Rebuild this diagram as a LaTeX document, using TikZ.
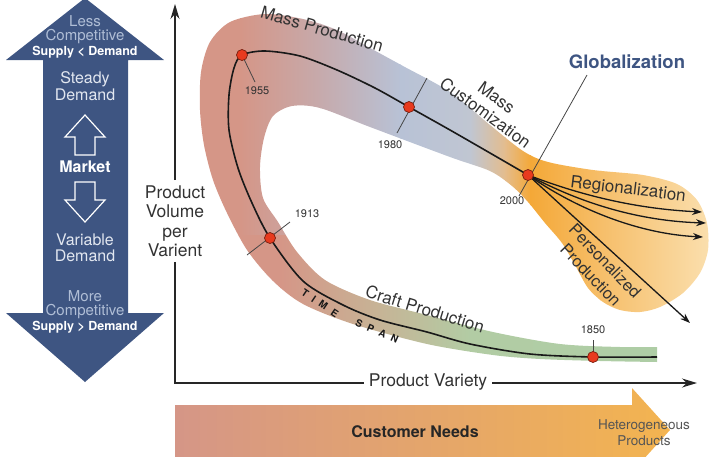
\documentclass[tikz,border=0pt]{standalone}
\usepackage{fontspec}
\setmainfont{TeX Gyre Heros}
\usetikzlibrary{arrows.meta}
\definecolor{navy}{RGB}{62,85,130}
\definecolor{lightnavy}{RGB}{176,190,214}
\definecolor{palenavy}{RGB}{226,231,240}
\definecolor{txtgrey}{RGB}{50,50,50}
\definecolor{midgrey}{RGB}{85,85,85}
\definecolor{salm}{RGB}{213,150,135}
\definecolor{mauvec}{RGB}{198,170,172}
\definecolor{bgrey}{RGB}{184,194,214}
\definecolor{bgreyb}{RGB}{192,198,210}
\definecolor{bandtan}{RGB}{228,188,140}
\definecolor{orng}{RGB}{244,168,55}
\definecolor{orngb}{RGB}{246,190,105}
\definecolor{peach}{RGB}{251,226,180}
\definecolor{olivec}{RGB}{198,180,150}
\definecolor{sage}{RGB}{178,204,164}
\definecolor{sageb}{RGB}{172,206,166}
\definecolor{dotred}{RGB}{232,58,30}
\definecolor{dotedge}{RGB}{120,30,15}
\definecolor{tickgrey}{RGB}{70,70,70}
\definecolor{cnleft}{RGB}{213,150,135}
\definecolor{cnright}{RGB}{243,180,80}
\tikzset{
  lbl/.style={text=txtgrey, font=\fontsize{17}{19}\selectfont, inner sep=0pt},
  yr/.style={text=txtgrey, font=\fontsize{11}{12}\selectfont, inner sep=0pt},
  yeardot/.style={circle, draw=dotedge, fill=dotred, line width=0.7pt, minimum size=11pt, inner sep=0pt},
  yeartick/.style={draw=tickgrey, line width=0.8pt},
  timeline/.style={draw=black!90, line width=1.6pt},
  axisline/.style={draw=black!85, line width=1.3pt},
  branch/.style={draw=black!90, line width=1.3pt, -{Stealth[length=10pt,width=7pt]}},
  panel/.style={font=\fontsize{15}{16}\selectfont, inner sep=0pt},
  panelb/.style={font=\fontsize{12.5}{14}\selectfont\bfseries, text=white, inner sep=0pt},
  outlinearrow/.style={draw=white, line width=1.2pt, line join=miter},
}
\begin{document}
\begin{tikzpicture}[x=1pt,y=-1pt]
\useasboundingbox (0,0) rectangle (716,456);

% ---------------- left market arrow ----------------
\fill[navy] (6,60) -- (85,-2) -- (164,60) -- (128,60) -- (128,313) -- (164,313)
  -- (85,382) -- (6,313) -- (43,313) -- (43,60) -- cycle;
\draw[outlinearrow] (75,155) -- (75,137) -- (65,137) -- (85,115) -- (105,137) -- (95,137) -- (95,155) -- cycle;
\draw[outlinearrow] (75,182) -- (95,182) -- (95,200) -- (105,200) -- (85,222) -- (65,200) -- (75,200) -- cycle;
\node[panel, text=lightnavy] (less) at (85,21) {Less};
\node[panel, text=lightnavy] (comp1) at (85,37) {Competitive};
\node[panelb] (sld) at (85,52) {Supply < Demand};
\node[panel, text=palenavy, font=\fontsize{16}{16}\selectfont] (steady) at (85,79) {Steady};
\node[panel, text=palenavy, font=\fontsize{16}{16}\selectfont] (dem1) at (85,95) {Demand};
\node[panelb, font=\fontsize{16}{16}\selectfont\bfseries] (market) at (85,167) {Market};
\node[panel, text=palenavy, font=\fontsize{16}{16}\selectfont] (variable) at (85,240) {Variable};
\node[panel, text=palenavy, font=\fontsize{16}{16}\selectfont] (dem2) at (85,256) {Demand};
\node[panel, text=lightnavy] (more) at (85,296) {More};
\node[panel, text=lightnavy] (comp2) at (85,312) {Competitive};
\node[panelb] (sgd) at (85,327) {Supply > Demand};

% ---------------- customer needs arrow ----------------
\shade[left color=cnleft, right color=cnright] (175,405) -- (632,405) -- (632,388) -- (670,430)
  -- (632,472) -- (632,460) -- (175,460) -- cycle;
\node[font=\fontsize{16}{16}\selectfont\bfseries, text=black!85, inner sep=0pt] (needs) at (415,432) {Customer Needs};
\node[font=\fontsize{13.5}{16}\selectfont, text=midgrey, align=center, inner sep=0pt] (hetero) at (644,433) {Heterogeneous\\Products};

% ---------------- band ----------------
\begin{scope}
\clip plot[smooth, tension=0.5] coordinates {
 (657,362) (600,361) (540,359) (493,355) (427,344) (353,324) (303,304) (273,281)
 (247,250) (227,213) (213,180) (204,145) (200,110) (201,72) (210,42) (230,22)
 (265,14) (303,19) (337,30) (370,48) (403,66) (450,92) (490,125) (523,151)
 (548,162) (593,170) (643,175) (677,184) (697,200) (707,223) (708,250) (700,273)
 (683,293) (660,307) (640,312) (620,310) (603,302) (588,288) (575,265) (562,243)
 (545,223) (528,202) (512,186) (490,171) (450,157) (370,127) (320,108) (292,106)
 (273,116) (264,138) (260,167) (263,198) (278,222) (297,252) (325,280) (370,300)
 (427,315) (493,332) (560,344) (620,347) (657,347)} -- cycle;
 \begin{scope}
 \clip (150,-10) -- (720,-10) -- (720,330) -- (450,310) -- (290,235) -- (150,235) -- cycle;
 \fill[salm] (150,-10) rectangle (241,400);
 \shade[left color=salm, right color=mauvec] (240,-10) rectangle (321,400);
 \shade[left color=mauvec, right color=bgrey] (320,-10) rectangle (401,400);
 \shade[left color=bgrey, right color=bgreyb] (400,-10) rectangle (471,400);
 \shade[left color=bgreyb, right color=bandtan] (470,-10) rectangle (506,400);
 \shade[left color=bandtan, right color=orng] (505,-10) rectangle (531,400);
 \shade[left color=orng, right color=orngb] (530,-10) rectangle (601,400);
 \shade[left color=orngb, right color=peach] (600,-10) rectangle (720,400);
 \end{scope}
 \begin{scope}
 \clip (150,235) -- (290,235) -- (450,310) -- (720,330) -- (720,400) -- (150,400) -- cycle;
 \fill[salm] (150,200) rectangle (281,400);
 \shade[left color=salm, right color=olivec] (280,200) rectangle (381,400);
 \shade[left color=olivec, right color=sage] (380,200) rectangle (471,400);
 \shade[left color=sage, right color=sageb] (470,200) rectangle (720,400);
 \end{scope}
\end{scope}

% ---------------- axes ----------------
\node[lbl, align=center, font=\fontsize{17.5}{19.5}\selectfont, inner sep=5pt] (ylab) at (175,221) {Product\\Volume\\per\\Varient};
\node[lbl, font=\fontsize{17.5}{19}\selectfont, inner sep=5pt] (xlab) at (428,382) {Product Variety};
\coordinate (ytop) at (175,4);
\coordinate (origin) at (175,383);
\coordinate (xend) at (697,383);
\draw[axisline, -{Stealth[length=15pt,width=9pt]}] (ylab.north) -- (ytop);
\draw[axisline] (ylab.south) -- (origin) -- (xlab.west |- origin);
\draw[axisline, -{Stealth[length=15pt,width=9pt]}] (xlab.east |- origin) -- (xend);

% ---------------- timeline coordinates ----------------
\coordinate (c1850) at (593,357);
\coordinate (c1913) at (270,238);
\coordinate (c1955) at (242,55);
\coordinate (c1980) at (409,107);
\coordinate (c2000) at (528,175);
\coordinate (r1) at (702,212);
\coordinate (r2) at (706,223);
\coordinate (r3) at (703,237);
\coordinate (pp) at (690,323);

% year ticks
\draw[yeartick] (c1955) -- (255,82);
\draw[yeartick] (427,78) -- (397,133);
\draw[yeartick] (247,255) -- (290,222);
\draw[yeartick] (c1850) -- (593,340);

% main time line
\draw[timeline] plot[smooth, tension=0.5] coordinates {
 (657,357) (c1850) (530,354) (470,344) (427,332) (380,320) (343,305) (303,281)
 (c1913) (252,203) (238,168) (229,130) (229,95) (234,68) (c1955) (265,51) (300,56)
 (337,70) (375,88) (c1980) (450,130) (490,153) (c2000)};

% branches
\draw[branch] (c2000) .. controls (585,197) and (640,209) .. (r1);
\draw[branch] (c2000) .. controls (582,204) and (640,221) .. (r2);
\draw[branch] (c2000) .. controls (578,210) and (640,234) .. (r3);
\draw[branch] (c2000) -- (pp);

% globalization
\node[font=\fontsize{18.5}{20}\selectfont\bfseries, text=navy, inner sep=0pt] (glob) at (627,62) {Globalization};
\coordinate (gstart) at (587,75);
\coordinate (gend) at (519,196);
\draw[yeartick] (gstart) -- (gend);

% dots
\node[yeardot] (d1850) at (c1850) {};
\node[yeardot] (d1913) at (c1913) {};
\node[yeardot] (d1955) at (c1955) {};
\node[yeardot] (d1980) at (c1980) {};
\node[yeardot] (d2000) at (c2000) {};

% year labels
\node[yr] (y1955) at (257,91) {1955};
\node[yr] (y1980) at (390,145) {1980};
\node[yr] (y1913) at (307,214) {1913};
\node[yr] (y1850) at (593,330) {1850};
\node[yr] (y2000) at (512,201) {2000};

% band labels
\node[lbl, rotate=-16] (massprod) at (322,29) {Mass Production};
\node[lbl, rotate=-36, align=center, font=\fontsize{17}{19}\selectfont] (masscust) at (491,105) {Mass\\Customization};
\node[lbl, rotate=-7] (region) at (628,190) {Regionalization};
\node[lbl, rotate=-46, align=center, font=\fontsize{16.5}{20}\selectfont] (pers) at (598,268) {Personalized\\Production};
\node[lbl, rotate=-17] (craft) at (425,309) {Craft Production};
\node[font=\fontsize{10}{10}\selectfont\bfseries, text=black!90, rotate=-34, inner sep=0pt] (time) at (320,303) {T\hspace{6pt}I\hspace{6pt}M\hspace{6pt}E};
\node[font=\fontsize{10}{10}\selectfont\bfseries, text=black!90, rotate=-24, inner sep=0pt] (span) at (377,331) {S\hspace{6pt}P\hspace{6pt}A\hspace{6pt}N};
\end{tikzpicture}
\end{document}
